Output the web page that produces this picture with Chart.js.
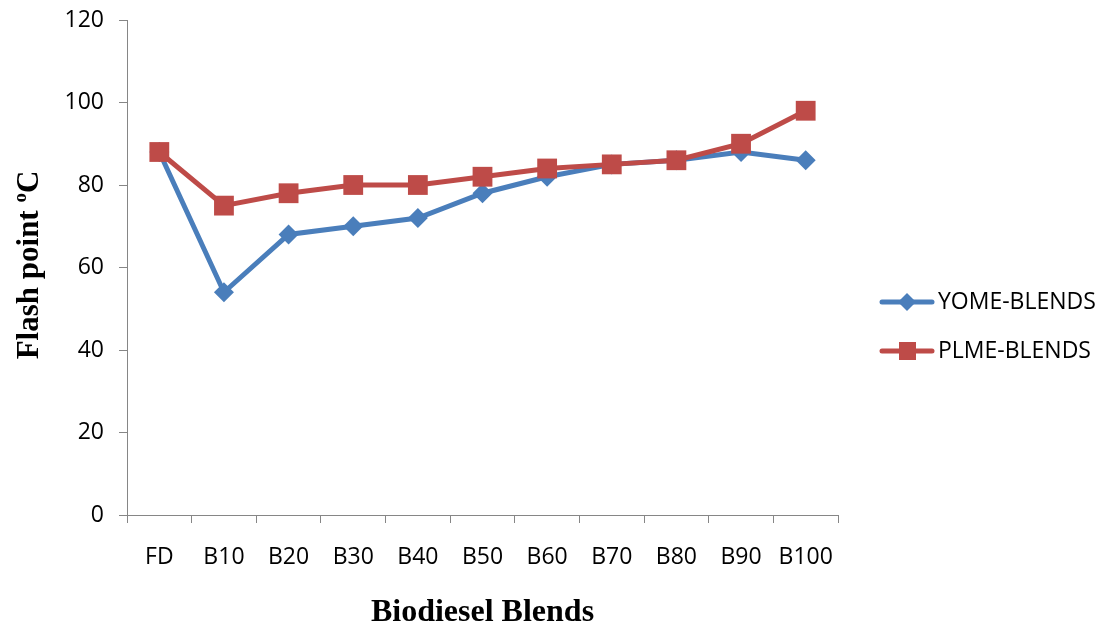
<!DOCTYPE html>
<html>
<head>
<meta charset="utf-8">
<title>Flash point of biodiesel blends</title>
<script src="https://cdn.jsdelivr.net/npm/chart.js@4.4.1/dist/chart.umd.min.js"></script>
<style>
  html, body { margin: 0; padding: 0; background: #ffffff; }
  #wrap { width: 1100px; height: 627px; position: relative; }
</style>
</head>
<body>
<div id="wrap"><canvas id="chart" width="1100" height="627"></canvas></div>
<script>
// Blend categories (FD = fossil diesel)
const categories = ['FD', 'B10', 'B20', 'B30', 'B40', 'B50', 'B60', 'B70', 'B80', 'B90', 'B100'];

// Flash point (°C) per blend
const yomeBlends = [88, 54, 68, 70, 72, 78, 82, 85, 86, 88, 86];
const plmeBlends = [88, 75, 78, 80, 80, 82, 84, 85, 86, 90, 98];

const seriesNames = ['YOME-BLENDS', 'PLME-BLENDS'];
const yTicks = [0, 20, 40, 60, 80, 100, 120];

const xTitle = 'Biodiesel Blends';
const yTitleMain = 'Flash point ';
const yTitleSup = 'o';
const yTitleUnit = 'C';

const BLUE = '#4A7EBB';
const RED = '#BE4B48';
const AXIS = '#868686';
const TICK_FONT = '"Open Sans", "DejaVu Sans", sans-serif';
const TITLE_FONT = '"Liberation Serif", "DejaVu Serif", serif';

// Axis titles and the line-with-marker legend on the right
const decorations = {
  id: 'decorations',
  afterDraw(chart) {
    const ctx = chart.ctx;
    const area = chart.chartArea;
    ctx.save();

    // x-axis title
    ctx.fillStyle = '#000';
    ctx.font = 'bold 32px ' + TITLE_FONT;
    ctx.textAlign = 'center';
    ctx.textBaseline = 'middle';
    ctx.fillText(xTitle, (area.left + area.right) / 2, 613);

    // y-axis title with raised "o"
    ctx.save();
    ctx.translate(27, 265);
    ctx.rotate(-Math.PI / 2);
    const mainFont = 'bold 31px ' + TITLE_FONT;
    const supFont = 'bold 19px ' + TITLE_FONT;
    ctx.font = mainFont;
    const w1 = ctx.measureText(yTitleMain).width;
    const w3 = ctx.measureText(yTitleUnit).width;
    ctx.font = supFont;
    const w2 = ctx.measureText(yTitleSup).width;
    let x = -(w1 + w2 + w3) / 2;
    ctx.textAlign = 'left';
    ctx.textBaseline = 'alphabetic';
    ctx.font = mainFont;
    ctx.fillText(yTitleMain, x, 11);
    x += w1;
    ctx.font = supFont;
    ctx.fillText(yTitleSup, x, -1);
    x += w2;
    ctx.font = mainFont;
    ctx.fillText(yTitleUnit, x, 11);
    ctx.restore();

    // legend
    chart.data.datasets.forEach((ds, i) => {
      const y = 302 + i * 49;
      ctx.strokeStyle = ds.borderColor;
      ctx.lineWidth = 5;
      ctx.lineCap = 'round';
      ctx.beginPath();
      ctx.moveTo(882, y);
      ctx.lineTo(932, y);
      ctx.stroke();
      ctx.fillStyle = ds.pointBackgroundColor;
      ctx.beginPath();
      if (ds.pointStyle === 'rectRot') {
        ctx.moveTo(907, y - 9);
        ctx.lineTo(916, y);
        ctx.lineTo(907, y + 9);
        ctx.lineTo(898, y);
        ctx.closePath();
      } else {
        ctx.rect(899, y - 9, 17, 18);
      }
      ctx.fill();
      ctx.fillStyle = '#000';
      ctx.font = '23px ' + TICK_FONT;
      ctx.textAlign = 'left';
      ctx.textBaseline = 'middle';
      ctx.fillText(ds.label, 938, y);
    });

    ctx.restore();
  }
};

new Chart(document.getElementById('chart'), {
  type: 'line',
  data: {
    labels: categories,
    datasets: [
      {
        label: seriesNames[0],
        data: yomeBlends,
        borderColor: BLUE,
        backgroundColor: BLUE,
        pointBackgroundColor: BLUE,
        pointBorderColor: BLUE,
        pointStyle: 'rectRot',
        pointRadius: 10,
        pointBorderWidth: 0,
        borderWidth: 5,
        tension: 0,
        order: 1
      },
      {
        label: seriesNames[1],
        data: plmeBlends,
        borderColor: RED,
        backgroundColor: RED,
        pointBackgroundColor: RED,
        pointBorderColor: RED,
        pointStyle: 'rect',
        pointRadius: 14,
        pointBorderWidth: 0,
        borderWidth: 5,
        tension: 0,
        order: 0
      }
    ]
  },
  options: {
    responsive: false,
    animation: false,
    events: [],
    layout: { autoPadding: false, padding: { left: 0, right: 262, top: 20, bottom: 0 } },
    plugins: {
      legend: { display: false },
      tooltip: { enabled: false },
      title: { display: false }
    },
    scales: {
      x: {
        type: 'category',
        offset: true,
        grid: {
          offset: true,
          drawOnChartArea: false,
          drawTicks: true,
          tickLength: 8,
          color: AXIS,
          lineWidth: 1
        },
        border: { display: true, color: AXIS, width: 1 },
        ticks: {
          color: '#000',
          font: { family: TICK_FONT, size: 23 },
          padding: 21,
          maxRotation: 0,
          autoSkip: false
        },
        afterFit(scale) {
          scale.height = 112;
          scale.paddingLeft = 0;
          scale.paddingRight = 0;
        }
      },
      y: {
        min: 0,
        max: 120,
        afterBuildTicks(scale) { scale.ticks = yTicks.map(v => ({ value: v })); },
        grid: {
          drawOnChartArea: false,
          drawTicks: true,
          tickLength: 8,
          color: AXIS,
          lineWidth: 1
        },
        border: { display: true, color: AXIS, width: 1 },
        ticks: {
          color: '#000',
          font: { family: TICK_FONT, size: 23 },
          padding: 15
        },
        afterFit(scale) {
          scale.width = 127;
          scale.paddingTop = 0;
          scale.paddingBottom = 0;
        }
      }
    }
  },
  plugins: [decorations]
});
</script>
</body>
</html>
